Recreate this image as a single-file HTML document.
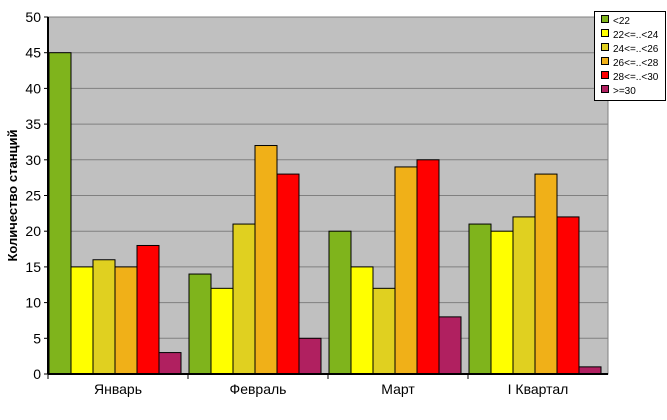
<!DOCTYPE html>
<html><head><meta charset="utf-8"><style>
body{margin:0;background:#fff;font-family:"Liberation Sans",Arial,sans-serif}
svg text{font-family:"Liberation Sans",Arial,sans-serif}
</style></head><body>
<svg id="c" width="667" height="415"></svg>
<script>
const categories=["Январь","Февраль","Март","I Квартал"];
const seriesNames=["<22","22<=..<24","24<=..<26","26<=..<28","28<=..<30",">=30"];
const colors=["#7fb41c","#ffff00","#e0d020","#f0b018","#ff0000","#b02060"];
const s0=[45,14,20,21];
const s1=[15,12,15,20];
const s2=[16,21,12,22];
const s3=[15,32,29,28];
const s4=[18,28,30,22];
const s5=[3,5,8,1];
const series=[s0,s1,s2,s3,s4,s5];
const yTicks=[0,5,10,15,20,25,30,35,40,45,50];
const NS="http://www.w3.org/2000/svg";
const svg=document.getElementById('c');
const L=48,R=608,T=17,B=374,yMax=50;
const y=v=>B-(B-T)*v/yMax;
const gw=(R-L)/categories.length, bw=22;
const x=(ci,si)=>L+ci*gw+1+si*bw;
function mk(t,a){const e=document.createElementNS(NS,t);for(const k in a)e.setAttribute(k,a[k]);svg.appendChild(e);return e;}
let e=mk('rect',{x:L,y:T,width:R-L,height:B-T,fill:'#c0c0c0',stroke:'#808080'});


yTicks.forEach(t=>{
 if(t>0){let g=mk('line',{x1:L,x2:R,y1:y(t),y2:y(t),stroke:'#808080'});
 
 }
 let tk=mk('line',{x1:L-4,x2:L,y1:y(t),y2:y(t),stroke:'#000'});
 
 
 let tx=mk('text',{x:L-7,y:y(t)+5,'text-anchor':'end','font-size':14});
 tx.textContent=t;
 
 
});
series.forEach((s,si)=>s.forEach((v,ci)=>{
 let r=mk('rect',{x:x(ci,si),y:y(v),width:bw,height:B-y(v),fill:colors[si],stroke:'#000','stroke-width':1});
 
 
}));
e=mk('line',{x1:L,x2:L,y1:T,y2:B,stroke:'#000','stroke-width':2});


e=mk('line',{x1:L,x2:R,y1:B,y2:B,stroke:'#000','stroke-width':2});


categories.forEach((c,ci)=>{
 let cx=L+ci*gw+gw/2;
 let tk=mk('line',{x1:L+ci*gw,x2:L+ci*gw,y1:B,y2:B+5,stroke:'#000'});
 
 
 let tx=mk('text',{x:cx,y:B+20,'text-anchor':'middle','font-size':14});
 tx.textContent=c;
 
 
});
e=mk('text',{x:17,y:(T+B)/2,'text-anchor':'middle','font-size':13,'font-weight':'bold',transform:'rotate(-90 17 '+(T+B)/2+')'});
e.textContent='Количество станций';


e=mk('rect',{x:594.5,y:11.5,width:71,height:89,fill:'#fff',stroke:'#000'});


seriesNames.forEach((n,i)=>{
 let yy=20+i*14;
 let sw=mk('rect',{x:601.5,y:yy-4.5,width:7,height:7,fill:colors[i],stroke:'#000'});
 
 
 let tx=mk('text',{x:613,y:yy+4,'font-size':10});
 tx.textContent=n;
 
 
});
</script>
</body></html>
